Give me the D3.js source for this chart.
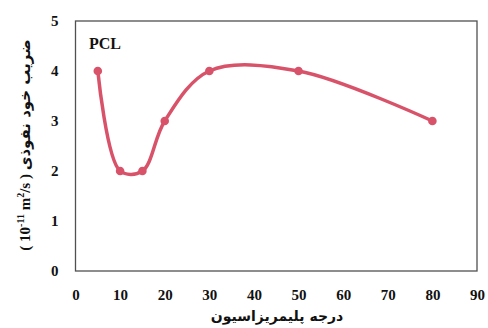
<!DOCTYPE html>
<html>
<head>
<meta charset="utf-8">
<script src="https://cdnjs.cloudflare.com/ajax/libs/d3/7.8.5/d3.min.js"></script>
<style>
	body { margin: 0; background: #fff; }
	svg text { font-family: "Liberation Serif", "DejaVu Sans", serif; font-weight: bold; }
</style>
</head>
<body>
<svg id="chart" width="488" height="328"></svg>
<script>
// data
var degree = [5, 10, 15, 20, 30, 50, 80];
var diffusion = [4, 2, 2, 3, 4, 4, 3];
var xTicks = [0, 10, 20, 30, 40, 50, 60, 70, 80, 90];
var yTicks = [0, 1, 2, 3, 4, 5];
var seriesName = "PCL";
var xTitle = "درجه پلیمریزاسیون";
var yTitle = "ضریب خود نفوذی";

var svg = d3.select("#chart");
var color = "#d8536a";

var x = d3.scaleLinear().domain([0, 90]).range([75.5, 477]);
var y = d3.scaleLinear().domain([0, 5]).range([271, 21]);

// plot area border
svg.append("rect")
	.attr("x", x(0))
	.attr("y", y(5))
	.attr("width", x(90) - x(0))
	.attr("height", y(0) - y(5))
	.attr("fill", "none")
	.attr("stroke", "#505050")
	.attr("stroke-width", 1.3);

// axes, labels only
var xAxis = svg.append("g")
	.attr("transform", "translate(0," + y(0) + ")")
	.call(d3.axisBottom(x).tickValues(xTicks).tickFormat(d3.format("d")).tickSize(0).tickPadding(18));
xAxis.select(".domain").remove();
xAxis.selectAll("text").attr("font-size", 15).attr("fill", "#111")
	.style("font-family", "Liberation Serif");

var yAxis = svg.append("g")
	.attr("transform", "translate(" + x(0) + ",0)")
	.call(d3.axisLeft(y).tickValues(yTicks).tickFormat(d3.format("d")).tickSize(0).tickPadding(17));
yAxis.select(".domain").remove();
yAxis.selectAll("text").attr("font-size", 15).attr("fill", "#111")
	.style("font-family", "Liberation Serif");

// smoothed series line
var pts = degree.map(function (d, i) { return [d, diffusion[i]]; });
var line = d3.line()
	.x(function (d) { return x(d[0]); })
	.y(function (d) { return y(d[1]); })
	.curve(d3.curveCatmullRom.alpha(0.5));

svg.append("path")
	.attr("d", line(pts))
	.attr("fill", "none")
	.attr("stroke", color)
	.attr("stroke-width", 3.5)
	.attr("stroke-linecap", "round");

svg.selectAll("circle.pt")
	.data(pts)
	.enter().append("circle")
	.attr("class", "pt")
	.attr("cx", function (d) { return x(d[0]); })
	.attr("cy", function (d) { return y(d[1]); })
	.attr("r", 4.3)
	.attr("fill", color);

// series label
svg.append("text")
	.attr("x", 89)
	.attr("y", 49)
	.attr("font-size", 16)
	.attr("fill", "#111")
	.text(seriesName);

// x title
svg.append("text")
	.attr("x", 277)
	.attr("y", 321)
	.attr("text-anchor", "middle")
	.attr("font-size", 14)
	.attr("fill", "#111")
	.style("font-family", "DejaVu Sans")
	.text(xTitle);

// y title, rotated
var yt = svg.append("text")
	.attr("transform", "translate(30,145) rotate(-90)")
	.attr("text-anchor", "middle")
	.attr("font-size", 15)
	.attr("fill", "#111");
yt.append("tspan").style("font-family", "Liberation Serif").text("( 10");
yt.append("tspan").attr("dy", -6).attr("font-size", 10).style("font-family", "Liberation Serif").text("-11");
yt.append("tspan").attr("dy", 6).style("font-family", "Liberation Serif").text(" m");
yt.append("tspan").attr("dy", -6).attr("font-size", 10).style("font-family", "Liberation Serif").text("2");
yt.append("tspan").attr("dy", 6).style("font-family", "Liberation Serif").text("/s ) ");
yt.append("tspan").style("font-family", "DejaVu Sans").text(yTitle);
</script>
</body>
</html>
